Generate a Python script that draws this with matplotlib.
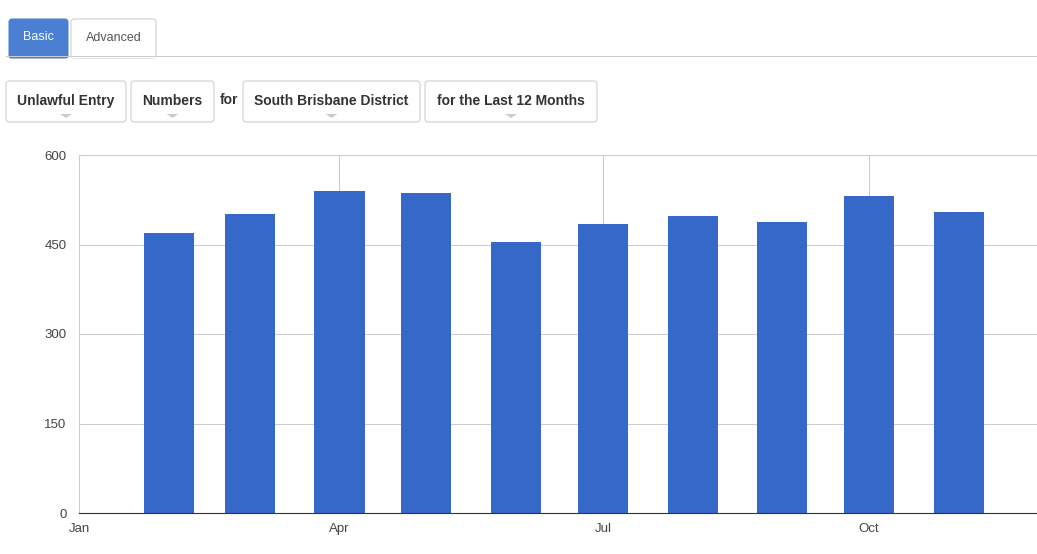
import datetime as dt
from matplotlib import pyplot as plt
from matplotlib.patches import FancyBboxPatch, Polygon

plt.rcParams['font.family'] = ['Liberation Sans', 'DejaVu Sans']

months = [dt.date(2017, m, 1) for m in range(2, 12)]
counts = [469, 501, 539, 536, 454, 484, 497, 487, 531, 504]
y_ticks = [0, 150, 300, 450, 600]
x_ticks = [dt.date(2017, 1, 1), dt.date(2017, 4, 1), dt.date(2017, 7, 1), dt.date(2017, 10, 1)]
x_labels = ['Jan', 'Apr', 'Jul', 'Oct']
tabs = ['Basic', 'Advanced']
selectors = ['Unlawful Entry', 'Numbers', 'South Brisbane District', 'for the Last 12 Months']

W, H = 1037, 554
fig = plt.figure(figsize=(W / 100, H / 100), dpi=100)


def fx(x):
    return x / W


def fy(y):
    return 1 - y / H


def box(x0, y0, x1, y1, face, edge, rad=3):
    p = FancyBboxPatch((fx(x0), fy(y1)), fx(x1 - x0), (y1 - y0) / H,
                       boxstyle='round,pad=0,rounding_size=%f' % (rad / W),
                       transform=fig.transFigure, facecolor=face, edgecolor=edge,
                       linewidth=0.75, mutation_aspect=W / H)
    fig.patches.append(p)


# tabs
box(9, 19, 68, 58, '#4a7fd1', '#4a7fd1')
fig.text(fx(38.5), fy(37), tabs[0], color='white', fontsize=9, ha='center', va='center')
box(71, 19, 156, 58, 'white', '#cccccc')
fig.text(fx(113.5), fy(38), tabs[1], color='#555555', fontsize=9, ha='center', va='center')
fig.add_artist(plt.Line2D([fx(6), fx(1037)], [fy(55.5), fy(55.5)], color='#cccccc', lw=0.75))
fig.patches.append(FancyBboxPatch((fx(9), fy(58)), fx(59), 2.5 / H, boxstyle='square,pad=0',
                                  transform=fig.transFigure, facecolor='#4a7fd1', edgecolor='none'))
fig.patches.append(FancyBboxPatch((fx(72), fy(58)), fx(83), 2.5 / H, boxstyle='square,pad=0',
                                  transform=fig.transFigure, facecolor='white', edgecolor='none'))

# selectors
spans = [(6, 126), (131, 214), (243, 420), (425, 597)]
for (x0, x1), label in zip(spans, selectors):
    box(x0, 81, x1, 122, 'white', '#cccccc')
    cx = (x0 + x1) / 2
    fig.text(fx(cx), fy(101), label, color='#333333', fontsize=10, fontweight='bold',
             ha='center', va='center')
    tri = Polygon([(fx(cx - 6), fy(114)), (fx(cx + 6), fy(114)), (fx(cx), fy(118))],
                  closed=True, transform=fig.transFigure, facecolor='#cccccc', edgecolor='none')
    fig.patches.append(tri)
fig.text(fx(228.5), fy(100), 'for', color='#333333', fontsize=10, fontweight='bold',
         ha='center', va='center')

# chart
ax = fig.add_axes([fx(79), fy(513), fx(1037 - 79), (513 - 155) / H])
ax.bar(months, counts, width=17.3, color='#3568c8', zorder=3)
ax.set_ylim(0, 600)
ax.set_xlim(dt.date(2017, 1, 1), dt.date(2017, 1, 1) + dt.timedelta(days=331.5))
ax.set_yticks(y_ticks)
ax.set_xticks(x_ticks)
ax.set_xticklabels(x_labels)
ax.grid(True, color='#cccccc', lw=0.75, zorder=0)
ax.tick_params(length=0, labelsize=9.5, colors='#444444')
ax.tick_params(axis='y', pad=9)
ax.tick_params(axis='x', pad=7)
for s in ['top', 'right']:
    ax.spines[s].set_visible(False)
ax.spines['left'].set_color('#cccccc')
ax.spines['left'].set_linewidth(0.75)
ax.spines['bottom'].set_color('#333333')
ax.spines['bottom'].set_zorder(4)

plt.savefig('out.png', dpi=100)
